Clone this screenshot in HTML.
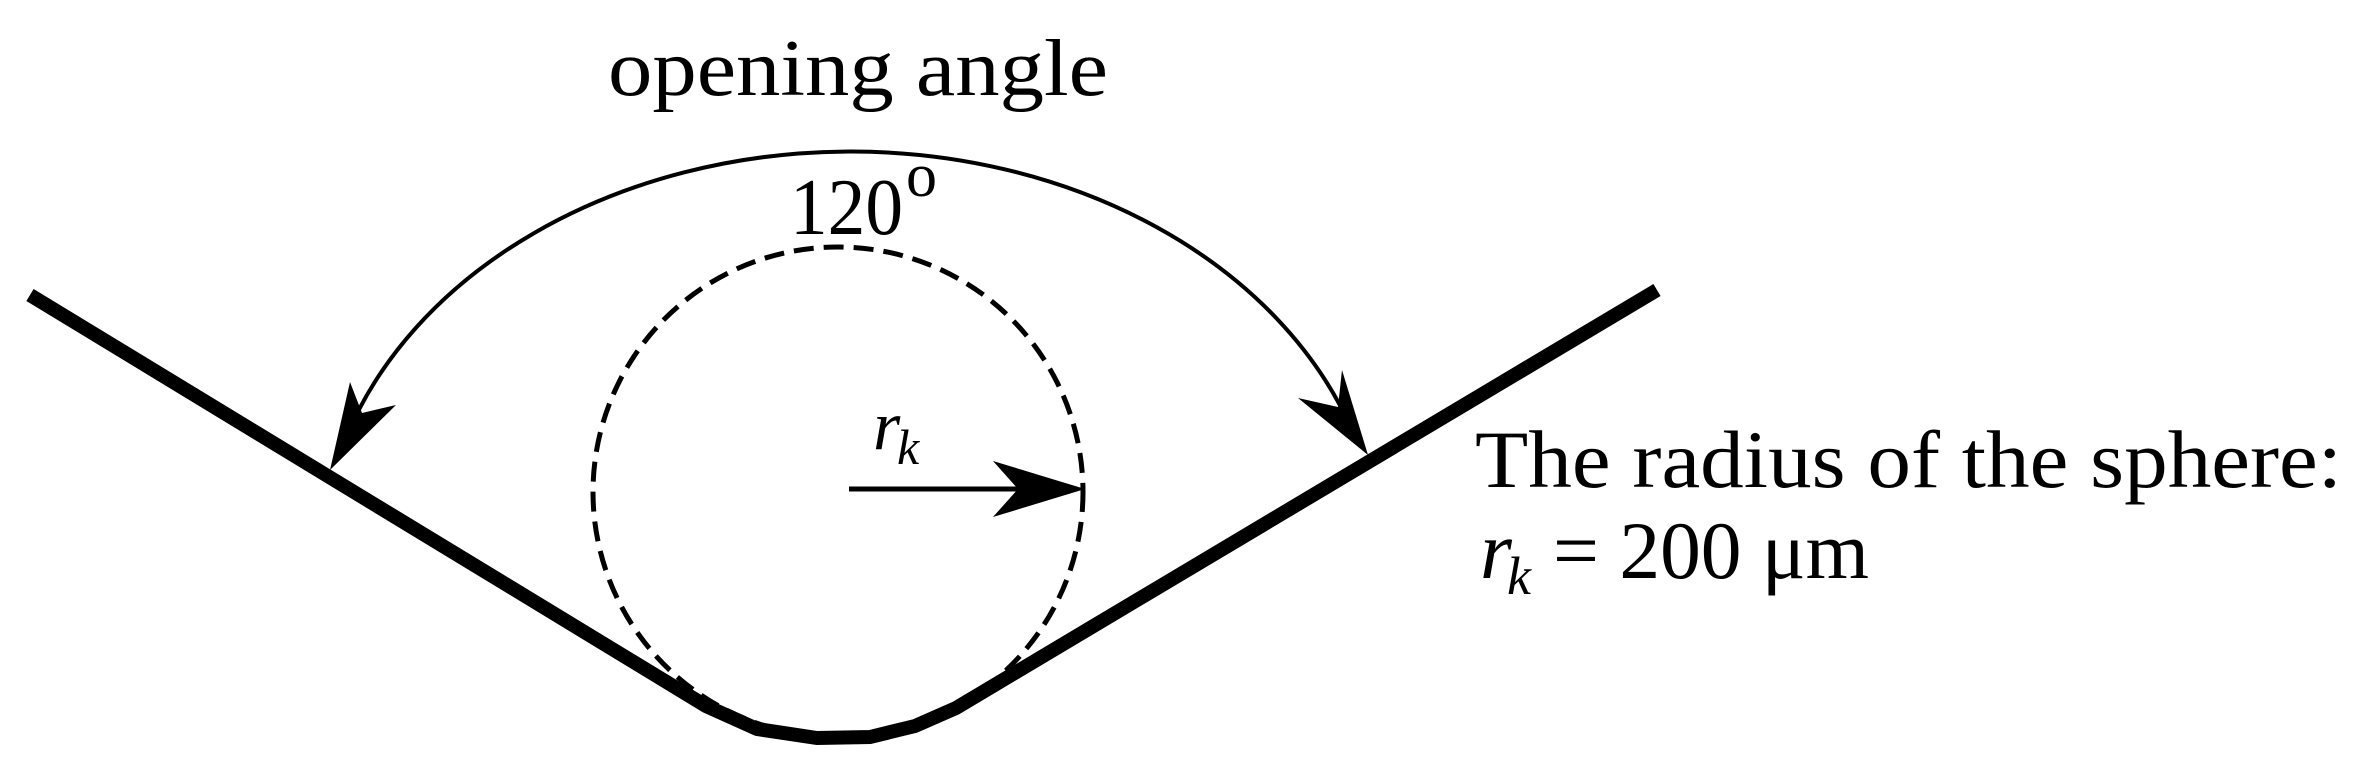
<!DOCTYPE html>
<html><head><style>html,body{margin:0;padding:0;background:#fff;}svg{display:block}</style></head>
<body>
<svg width="2373" height="783" viewBox="0 0 2373 783" xmlns="http://www.w3.org/2000/svg" font-family="'Liberation Serif', serif">
<rect width="2373" height="783" fill="#fff"/>
<!-- dashed circle -->
<circle cx="838" cy="492" r="245" fill="none" stroke="#000" stroke-width="5" stroke-dasharray="20,10"/>
<!-- V shape -->
<polyline points="30,295 706,706 757,729 817,738 870,737 915,726 956,708 1657,290" fill="none" stroke="#000" stroke-width="14" stroke-linejoin="miter"/>
<!-- radius arrow -->
<line x1="849" y1="489" x2="1030" y2="489" stroke="#000" stroke-width="5"/>
<polygon points="1085,489 993,461 1018,489 993,517" fill="#000"/>
<!-- arc -->
<path d="M345,440 A530 412 0 0 1 1352,430" fill="none" stroke="#000" stroke-width="4"/>
<polygon points="330,470 350,382 362,413 396,405" fill="#000"/>
<polygon points="1368,455 1342,370 1338,407 1298,398" fill="#000"/>
<!-- texts -->
<text x="608" y="95" font-size="80" textLength="500" lengthAdjust="spacingAndGlyphs">opening angle</text>
<text x="790" y="234" font-size="80" textLength="113" lengthAdjust="spacingAndGlyphs">120</text>
<text x="906" y="196" font-size="62">o</text>
<text x="873" y="449" font-size="70" font-style="italic">r</text>
<text x="897" y="464" font-size="50" font-style="italic">k</text>
<text x="1475" y="487" font-size="82" textLength="867" lengthAdjust="spacingAndGlyphs">The radius of the sphere:</text>
<text x="1480" y="578" font-size="82" font-style="italic">r</text>
<text x="1507" y="594" font-size="54" font-style="italic">k</text>
<text x="1553" y="578" font-size="82" textLength="316" lengthAdjust="spacingAndGlyphs">= 200 μm</text>
</svg>
</body></html>
